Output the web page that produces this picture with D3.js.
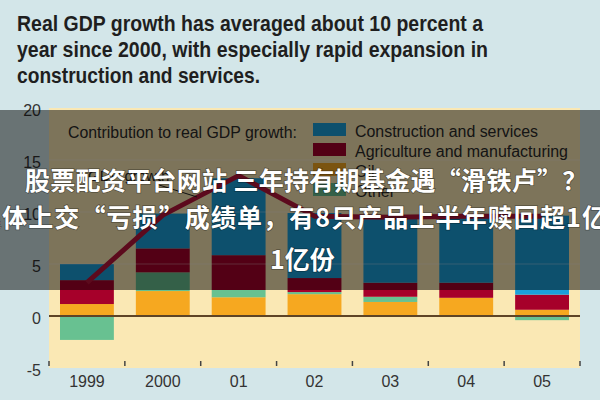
<!DOCTYPE html>
<html><head><meta charset="utf-8">
<script src="https://cdn.jsdelivr.net/npm/d3@7"></script>
<style>html,body{margin:0;padding:0;background:#d3e6e9;} svg{display:block}</style>
</head><body>
<svg id="chart" width="600" height="400"></svg>
<script>
// ---- data ----
const years = ["1999", "2000", "01", "02", "03", "04", "05"];
const construction = [1.55, 3.35, 7.4, 6.25, 6.45, 6.45, 7.6];
const agriculture = [2.3, 2.3, 3.35, 1.35, 1.35, 1.45, 1.45];
const oil = [1.15, 2.4, 1.8, 2.1, 1.35, 1.75, 0.6];
const other = [-2.3, 1.8, 0.7, 0.2, 0.5, 0.0, -0.4];
const gdpGrowth = [3.2, 9.7, 13.5, 9.6, 9.5, 9.6, 9.6];
const yTicks = [-5, 0, 5, 10, 15, 20];
const yTickLabels = ["-5", "0", "5", "10", "15", "20"];
const gridValues = [5, 10, 15];
const seriesKeys = ["construction", "agriculture", "oil", "other"];
const seriesNames = ["Construction and services", "Agriculture and manufacturing", "Oil", "Other"];
const titleLines = [
  "Real GDP growth has averaged about 10 percent a",
  "year since 2000, with especially rapid expansion in",
  "construction and services."
];
const subtitle = "Contribution to real GDP growth:";
const lineLabel = "GDP growth";
const overlayLines = [
  "股票配资平台网站 三年持有期基金遇“滑铁卢”？",
  "集体上交“亏损”成绩单，有8只产品上半年赎回超1亿份",
  "1亿份"
];

// ---- styles ----
const colors = {construction: "#1ba0da", agriculture: "#a6002a", oil: "#f6a820", other: "#68c191"};
const svg = d3.select("#chart");
const W = 600, H = 400;
const plot = {left: 49, right: 580, top: 108, bottom: 368};

svg.append("rect").attr("width", W).attr("height", H).attr("fill", "#d3e6e9");

// title
const titleBase = [31, 57, 82.5];
const titleWidths = [466, 471, 243];
svg.append("g").selectAll("text").data(titleLines).join("text")
  .attr("x", 17).attr("y", (d, i) => titleBase[i])
  .attr("textLength", (d, i) => titleWidths[i]).attr("lengthAdjust", "spacingAndGlyphs")
  .attr("font-family", "Liberation Sans, Arial, sans-serif").attr("font-weight", "bold")
  .attr("font-size", 22).attr("fill", "#1f1f1f").text(d => d);

// scales
const x = d3.scaleBand().domain(years).range([plot.left, plot.right]).paddingInner(0.29).paddingOuter(0.145);
const y = d3.scaleLinear().domain([-5, 20]).range([plot.bottom, plot.top]);

// plot area
svg.append("rect").attr("x", plot.left).attr("y", plot.top)
  .attr("width", plot.right - plot.left).attr("height", plot.bottom - plot.top).attr("fill", "#fae8b4");

// stacked bars
const table = years.map((yr, i) => ({year: yr, oil: oil[i], other: other[i], agriculture: agriculture[i], construction: construction[i]}));
const stack = d3.stack().keys(["oil", "other", "agriculture", "construction"]).offset(d3.stackOffsetDiverging);
const layers = stack(table);
svg.append("g").selectAll("g").data(layers).join("g")
  .attr("fill", d => colors[d.key])
  .selectAll("rect").data(d => d).join("rect")
  .attr("x", d => x(d.data.year)).attr("width", x.bandwidth())
  .attr("y", d => y(Math.max(d[0], d[1])))
  .attr("height", d => Math.abs(y(d[0]) - y(d[1])));

// gridlines
svg.append("g").selectAll("line").data(gridValues).join("line")
  .attr("x1", plot.left).attr("x2", plot.right)
  .attr("y1", d => y(d)).attr("y2", d => y(d))
  .attr("stroke", "#ffffff").attr("stroke-opacity", 0.22).attr("stroke-width", 1.5);

// zero line
svg.append("line").attr("x1", plot.left).attr("x2", plot.right)
  .attr("y1", y(0)).attr("y2", y(0)).attr("stroke", "#5e4426").attr("stroke-width", 2);

// bottom ticks at band boundaries
const step = x.step();
const boundaries = years.map(d => x(d) - (step - x.bandwidth()) / 2).concat([plot.right]);
svg.append("g").selectAll("line").data(boundaries).join("line")
  .attr("x1", d => d).attr("x2", d => d).attr("y1", 361).attr("y2", 366)
  .attr("stroke", "#444").attr("stroke-width", 1.5);

// y axis labels
const yAxis = d3.axisLeft(y).tickValues(yTicks).tickFormat((d, i) => yTickLabels[i]).tickSize(0).tickPadding(0);
const gy = svg.append("g").attr("transform", "translate(41,0)").call(yAxis);
gy.select(".domain").remove();
gy.selectAll("text").attr("font-family", "Liberation Sans, Arial, sans-serif").attr("font-size", 16)
  .attr("fill", "#333").attr("dy", "0.45em");

// x axis labels
const xAxis = d3.axisBottom(x).tickSize(0).tickPadding(0);
const gx = svg.append("g").attr("transform", "translate(0,376)").call(xAxis);
gx.select(".domain").remove();
gx.selectAll("text").attr("font-family", "Liberation Sans, Arial, sans-serif").attr("font-size", 16).attr("fill", "#333");

// GDP growth line
const line = d3.line().x((d, i) => x(years[i]) + x.bandwidth() / 2).y(d => y(d));
svg.append("path").datum(gdpGrowth).attr("d", line)
  .attr("fill", "none").attr("stroke", "#b8153a").attr("stroke-width", 5).attr("stroke-linejoin", "round");

// line label + leader
svg.append("text").attr("x", 88).attr("y", 181).attr("font-family", "Liberation Sans, Arial, sans-serif")
  .attr("font-size", 15).attr("fill", "#2a2a2a").text(lineLabel);
svg.append("line").attr("x1", 156).attr("y1", 184).attr("x2", 197).attr("y2", 197)
  .attr("stroke", "#222").attr("stroke-width", 1);

// subtitle
svg.append("text").attr("x", 68).attr("y", 137.5).attr("textLength", 229).attr("lengthAdjust", "spacingAndGlyphs")
  .attr("font-family", "Liberation Sans, Arial, sans-serif").attr("font-size", 16).attr("fill", "#2a2a2a").text(subtitle);

// legend
const legendWidths = [183, 213, null, null];
const lg = svg.append("g").selectAll("g").data(seriesKeys).join("g")
  .attr("transform", (d, i) => `translate(313,${123 + i * 20})`);
lg.append("rect").attr("width", 33).attr("height", 13).attr("fill", d => colors[d]);
lg.append("text").attr("x", 42).attr("y", 13.5)
  .each(function (d, i) { if (legendWidths[i]) d3.select(this).attr("textLength", legendWidths[i]).attr("lengthAdjust", "spacingAndGlyphs"); })
  .attr("font-family", "Liberation Sans, Arial, sans-serif").attr("font-size", 16).attr("fill", "#2a2a2a")
  .text((d, i) => seriesNames[i]);

// dark overlay band
svg.append("rect").attr("x", 0).attr("y", 110).attr("width", W).attr("height", 180)
  .attr("fill", "#000").attr("fill-opacity", 0.5);

// overlay caption text
const ovPos = [[25, 190, 0.3], [-24, 227, 1.1], [270, 269, 0]];
svg.append("g").selectAll("text").data(overlayLines).join("text")
  .attr("x", (d, i) => ovPos[i][0]).attr("y", (d, i) => ovPos[i][1])
  .attr("letter-spacing", (d, i) => ovPos[i][2])
  .attr("font-family", "Noto Sans CJK SC, sans-serif").attr("font-weight", "bold").attr("font-size", 25)
  .attr("fill", "#ffffff").attr("stroke", "rgba(0,0,0,0.35)").attr("stroke-width", 1.5)
  .attr("paint-order", "stroke").text(d => d);
</script>
</body></html>
